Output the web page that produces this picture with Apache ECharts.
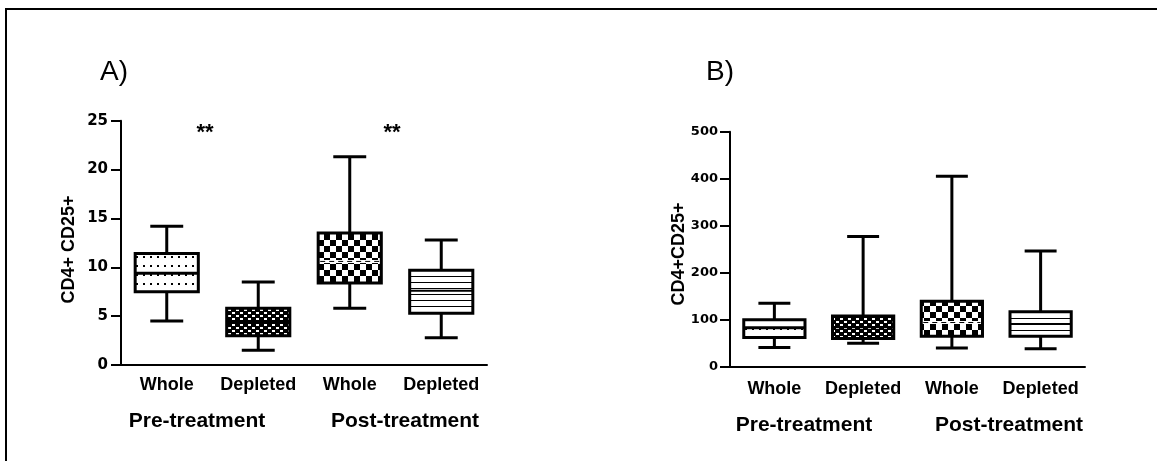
<!DOCTYPE html>
<html><head><meta charset="utf-8">
<script src="https://cdn.jsdelivr.net/npm/echarts@6/dist/echarts.min.js"></script>
<style>html,body{margin:0;padding:0;background:#fff}#c{width:1157px;height:461px}</style>
</head><body><div id="c"></div>
<script>
// ---- data ----
const categories = ['Whole', 'Depleted', 'Whole', 'Depleted'];
const groupLabels = ['Pre-treatment', 'Post-treatment'];
const panelTitles = ['A)', 'B)'];
const yTitleA = 'CD4+ CD25+';
const yTitleB = 'CD4+CD25+';
const significanceA = ['**', '**'];

const aMin    = [4.5, 1.5, 5.8, 2.8];
const aQ1     = [7.5, 3.0, 8.4, 5.3];
const aMedian = [9.4, 4.4, 10.6, 7.6];
const aQ3     = [11.4, 5.8, 13.5, 9.7];
const aMax    = [14.2, 8.5, 21.3, 12.8];

const bMin    = [41, 50, 40, 38];
const bQ1     = [62, 60, 65, 65];
const bMedian = [83, 84, 94, 91];
const bQ3     = [100, 108, 139, 117];
const bMax    = [135, 277, 405, 246];

const aTicks = [0, 25, 5];    // min, max, interval
const bTicks = [0, 500, 100];

// ---- patterns ----
function makePattern(kind) {
  const c = document.createElement('canvas');
  const g = c.getContext('2d');
  if (kind === 'dots') {
    c.width = 7; c.height = 9;
    g.fillStyle = '#fff'; g.fillRect(0, 0, 7, 9);
    g.fillStyle = '#000'; g.fillRect(3, 4, 2, 2);
  } else if (kind === 'fine') {
    c.width = 8; c.height = 6;
    g.fillStyle = '#000'; g.fillRect(0, 0, 8, 6);
    g.fillStyle = '#fff'; g.fillRect(0, 0, 3, 2); g.fillRect(4, 3, 3, 2);
  } else if (kind === 'checker') {
    c.width = 12; c.height = 12;
    g.fillStyle = '#000'; g.fillRect(0, 0, 12, 12);
    g.fillStyle = '#fff'; g.fillRect(0, 0, 6, 6); g.fillRect(6, 6, 6, 6);
  } else {
    c.width = 4; c.height = 6;
    g.fillStyle = '#fff'; g.fillRect(0, 0, 4, 6);
    g.fillStyle = '#000'; g.fillRect(0, 0, 4, 1);
  }
  return { image: c, repeat: 'repeat' };
}
const patterns = [makePattern('dots'), makePattern('fine'), makePattern('checker'), makePattern('stripes')];

function renderBox(params, api) {
  const i = api.value(0);
  const vals = [api.value(1), api.value(2), api.value(3), api.value(4), api.value(5)];
  const ys = vals.map(v => api.coord([i, v])[1]);
  const cx = api.coord([i, vals[0]])[0];
  const band = api.size([1, 0])[0];
  const bw = band * 0.69, cw = band * 0.36;
  const [yMin, yQ1, yMed, yQ3, yMax] = ys;
  const lw = 3;
  const ls = { stroke: '#000', lineWidth: lw };
  const children = [
    { type: 'line', shape: { x1: cx, y1: yMax, x2: cx, y2: yQ3 }, style: ls },
    { type: 'line', shape: { x1: cx, y1: yQ1, x2: cx, y2: yMin }, style: ls },
    { type: 'line', shape: { x1: cx - cw / 2, y1: yMax, x2: cx + cw / 2, y2: yMax }, style: ls },
    { type: 'line', shape: { x1: cx - cw / 2, y1: yMin, x2: cx + cw / 2, y2: yMin }, style: ls },
    { type: 'rect', shape: { x: cx - bw / 2, y: yQ3, width: bw, height: yQ1 - yQ3 },
      style: { fill: patterns[params.dataIndex], stroke: '#000', lineWidth: lw, lineJoin: 'miter' } }
  ];
  if (params.dataIndex === 2) {
    children.push({ type: 'line', shape: { x1: cx - bw / 2 + 2, y1: yMed, x2: cx + bw / 2 - 2, y2: yMed }, style: { stroke: '#fff', lineWidth: 3 } });
    children.push({ type: 'line', shape: { x1: cx - bw / 2 + 2, y1: yMed, x2: cx + bw / 2 - 2, y2: yMed }, style: { stroke: '#000', lineWidth: 1, lineDash: [5, 4] } });
  } else {
    children.push({ type: 'line', shape: { x1: cx - bw / 2, y1: yMed, x2: cx + bw / 2, y2: yMed }, style: { stroke: '#000', lineWidth: params.dataIndex === 0 ? 3 : 2 } });
  }
  return { type: 'group', children };
}

const FONT = 'Liberation Sans, Arial, sans-serif';
function xAxis(gi, margin) {
  return {
    type: 'category', gridIndex: gi, data: categories, boundaryGap: true,
    axisLine: { lineStyle: { color: '#000', width: 2 } },
    axisTick: { alignWithLabel: true, length: 9, lineStyle: { color: '#000', width: 2 } },
    axisLabel: { color: '#000', fontFamily: FONT, fontWeight: 'bold', fontSize: 18, margin: margin, interval: 0 },
    splitLine: { show: false }
  };
}
function yAxis(gi, t, fs, margin) {
  return {
    type: 'value', gridIndex: gi, min: t[0], max: t[1], interval: t[2],
    axisLine: { show: true, lineStyle: { color: '#000', width: 2 } },
    axisTick: { show: true, length: 10, lineStyle: { color: '#000', width: 2 } },
    axisLabel: { color: '#000', fontFamily: 'DejaVu Sans', fontWeight: 'bold', fontSize: fs, margin: margin },
    splitLine: { show: false }
  };
}
function text(x, y, t, size, weight, extra) {
  return Object.assign({ type: 'text', x: x, y: y,
    style: { text: t, fontSize: size, fontWeight: weight, fontFamily: FONT, fill: '#000', align: 'center', verticalAlign: 'middle' } }, extra || {});
}
function titleText(x, y, t) {
  return { type: 'text', x: x, y: y,
    style: { text: t, fontSize: 28, fontFamily: 'Liberation Sans Narrow, Liberation Sans', fill: '#000', align: 'center', verticalAlign: 'middle' } };
}

const chart = echarts.init(document.getElementById('c'), null, { renderer: 'canvas' });
chart.setOption({
  animation: false,
  backgroundColor: '#fff',
  grid: [
    { left: 121, top: 120.7, width: 366, height: 244.3 },
    { left: 730, top: 131.7, width: 355, height: 235 }
  ],
  xAxis: [xAxis(0, 11), xAxis(1, 13)],
  yAxis: [yAxis(0, aTicks, 15, 13), yAxis(1, bTicks, 13, 12)],
  series: [
    { type: 'custom', xAxisIndex: 0, yAxisIndex: 0, renderItem: renderBox,
      encode: { x: 0, y: [1, 2, 3, 4, 5] },
      data: categories.map((c, i) => [i, aMin[i], aQ1[i], aMedian[i], aQ3[i], aMax[i]]) },
    { type: 'custom', xAxisIndex: 1, yAxisIndex: 1, renderItem: renderBox,
      encode: { x: 0, y: [1, 2, 3, 4, 5] },
      data: categories.map((c, i) => [i, bMin[i], bQ1[i], bMedian[i], bQ3[i], bMax[i]]) }
  ],
  graphic: [
    { type: 'line', shape: { x1: 5, y1: 9, x2: 1157, y2: 9 }, style: { stroke: '#000', lineWidth: 2 } },
    { type: 'line', shape: { x1: 6, y1: 9, x2: 6, y2: 461 }, style: { stroke: '#000', lineWidth: 2 } },
    titleText(114, 72, panelTitles[0]),
    titleText(720, 72, panelTitles[1]),
    text(69, 249.5, yTitleA, 18, 'bold', { rotation: Math.PI / 2 }),
    text(679, 254, yTitleB, 18, 'bold', { rotation: Math.PI / 2 }),
    text(205, 133, significanceA[0], 22, 'bold'),
    text(392, 133, significanceA[1], 22, 'bold'),
    text(197, 421, groupLabels[0], 21, 'bold'),
    text(405, 421, groupLabels[1], 21, 'bold'),
    text(804, 425, groupLabels[0], 21, 'bold'),
    text(1009, 425, groupLabels[1], 21, 'bold')
  ]
});
</script></body></html>
